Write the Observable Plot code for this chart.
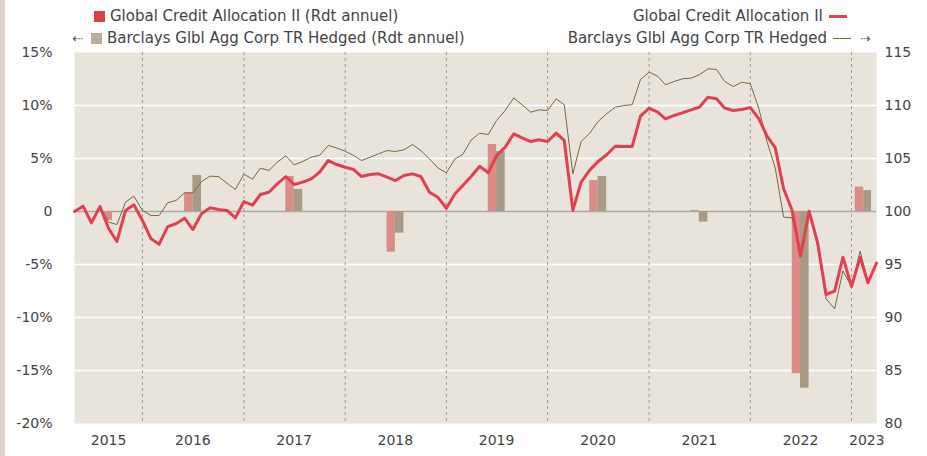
<!DOCTYPE html>
<html><head><meta charset="utf-8">
<script src="https://cdn.jsdelivr.net/npm/d3@7"></script>
<script src="https://cdn.jsdelivr.net/npm/@observablehq/plot@0.6"></script>
<style>
body{margin:0;background:#fff;font-family:"DejaVu Sans",Verdana,sans-serif;}
#wrap{position:relative;width:927px;height:456px;overflow:hidden;background:#fff}
#strip{position:absolute;left:0;top:0;width:5px;height:456px;background:#d9d3cb}
.leg{position:absolute;font-size:15px;color:#444;white-space:nowrap;line-height:16px}
.sw{display:inline-block;width:11px;height:11px;vertical-align:-1px;margin-right:5px}
.ln{display:inline-block;width:18px;vertical-align:middle;margin-left:6px}
.arr{font-size:13px;color:#6b5a3a}
#chart{position:absolute;left:0;top:45px}
</style></head><body>
<div id="wrap">
<div id="strip"></div>
<div class="leg" style="left:94px;top:8px"><span class="sw" style="background:#d64545"></span>Global Credit Allocation II (Rdt annuel)</div>
<div class="leg" style="left:72px;top:30px"><span class="arr" style="margin-right:8px">⇠</span><span class="sw" style="background:#b9ae9b"></span>Barclays Glbl Agg Corp TR Hedged (Rdt annuel)</div>
<div class="leg" style="right:80px;top:8px">Global Credit Allocation II<span class="ln" style="height:3px;background:#e04050"></span></div>
<div class="leg" style="right:56px;top:30px">Barclays Glbl Agg Corp TR Hedged<span class="ln" style="height:1px;background:#7a6440"></span><span class="arr" style="margin-left:9px">⇢</span></div>
<div id="chart"></div>
</div>
<script>
const startMonth = "2015-05-01";
const endMonth = "2023-04-01";
const gcaLine = [0,0.5,-1.07,0.47,-1.6,-2.83,0.1,0.63,-0.85,-2.58,-3.1,-1.42,-1.16,-0.63,-1.7,-0.22,0.35,0.19,0.1,-0.6,
0.94,0.6,1.6,1.82,2.61,3.3,2.55,2.77,3.08,3.71,4.81,4.43,4.18,3.96,3.3,3.49,3.55,3.24,2.92,3.4,
3.55,3.3,1.82,1.35,0.31,1.67,2.45,3.33,4.27,3.65,5.28,6.07,7.33,6.95,6.6,6.76,6.6,7.39,6.7,0.1,
2.77,3.9,4.72,5.35,6.16,6.13,6.13,8.99,9.75,9.37,8.74,9.06,9.31,9.59,9.84,10.78,10.63,9.75,9.53,9.62,
9.8,8.74,7.17,6.0,2.14,0.1,-4.21,0.03,-2.99,-7.83,-7.52,-4.31,-7.08,-4.31,-6.73,-4.87];
const bbgLine = [0,0.6,-1.07,0.5,-1.0,-1.23,0.88,1.45,0.1,-0.38,-0.38,0.82,1.04,1.76,1.76,2.83,3.33,3.3,2.67,2.08,
3.52,3.05,4.09,3.87,4.65,5.25,4.4,4.72,5.12,5.31,6.23,6.0,5.69,5.28,4.81,5.12,5.44,5.75,5.66,5.82,
6.32,5.75,4.97,4.12,3.65,4.97,5.38,6.76,7.39,7.26,8.58,9.53,10.72,10.07,9.37,9.59,9.53,10.63,10.07,3.55,
6.6,7.39,8.49,9.22,9.84,10.0,10.07,12.45,13.14,12.76,11.95,12.26,12.52,12.58,12.9,13.46,13.4,12.26,11.79,12.2,
12.05,9.69,6.7,4.09,-0.53,-0.6,-4.0,0.0,-3.3,-8.24,-9.18,-5.6,-7.1,-3.74,-6.6,-5.0];
const barCenters = ["2015-09-15","2016-07-01","2017-07-01","2018-07-01","2019-07-01","2020-07-01","2021-07-01","2022-07-01","2023-02-14"];
const gcaAnnual = [-0.85,1.76,3.3,-3.84,6.32,2.92,0.1,-15.3,2.3];
const bbgAnnual = [-0.1,3.4,2.08,-2.04,5.66,3.3,-1.0,-16.67,1.98];
const yearLabelDates = ["2015-09-01","2016-07-01","2017-07-01","2018-07-01","2019-07-01","2020-07-01","2021-07-01","2022-07-01","2023-02-25"];
const yearBoundaries = ["2016-01-01","2017-01-01","2018-01-01","2019-01-01","2020-01-01","2021-01-01","2022-01-01","2023-01-01"];
const leftTicks = [15,10,5,0,-5,-10,-15,-20];
const rightTicks = [115,110,105,100,95,90,85,80];
const gridTicks = [10,5,-5,-10,-15];

const months = d3.utcMonth.range(new Date(startMonth), d3.utcMonth.offset(new Date(endMonth), 1));
const lineData = months.map((d, i) => ({date: d, gca: gcaLine[i], bbg: bbgLine[i]}));
const bars = barCenters.map((c, i) => ({c: new Date(c), gca: gcaAnnual[i], bbg: bbgAnnual[i]}));

const chart = Plot.plot({
  width: 927, height: 411,
  marginLeft: 74, marginRight: 51, marginTop: 7, marginBottom: 33,
  x: {type: "utc", domain: [new Date(startMonth), new Date(endMonth)]},
  y: {domain: [-20, 15]},
  style: {fontFamily: "'DejaVu Sans', Verdana, sans-serif", fontSize: "14px", color: "#444", background: "transparent"},
  marks: [
    Plot.frame({fill: "#e8e4dc", stroke: null}),
    Plot.ruleY(gridTicks, {stroke: "#fff", strokeWidth: 1.6}),
    Plot.ruleX(yearBoundaries.map(d => new Date(d)), {stroke: "#9a9a9a", strokeDasharray: "3,3", strokeWidth: 1}),
    Plot.ruleY([0], {stroke: "#aaa", strokeWidth: 1.5}),
    Plot.rect(bars, {x1: d => d3.utcMonth.offset(d.c, -1), x2: "c", y1: () => 0, y2: "gca", fill: "#d98c88"}),
    Plot.rect(bars, {x1: "c", x2: d => d3.utcMonth.offset(d.c, 1), y1: () => 0, y2: "bbg", fill: "#a89a84"}),
    Plot.lineY(lineData, {x: "date", y: "bbg", stroke: "#7a6440", strokeWidth: 1}),
    Plot.lineY(lineData, {x: "date", y: "gca", stroke: "#e04050", strokeWidth: 3}),
    Plot.axisY(leftTicks, {anchor: "left", tickSize: 0, tickPadding: 22, label: null, tickFormat: d => d === 0 ? "0" : d + "%"}),
    Plot.axisY(rightTicks.map(t => t - 100), {anchor: "right", tickSize: 0, tickPadding: 8, label: null, tickFormat: d => String(d + 100)}),
    Plot.axisX(yearLabelDates.map(d => new Date(d)), {tickSize: 0, tickPadding: 12, label: null, tickFormat: d3.utcFormat("%Y")})
  ]
});
document.getElementById("chart").appendChild(chart);
</script>
</body></html>
